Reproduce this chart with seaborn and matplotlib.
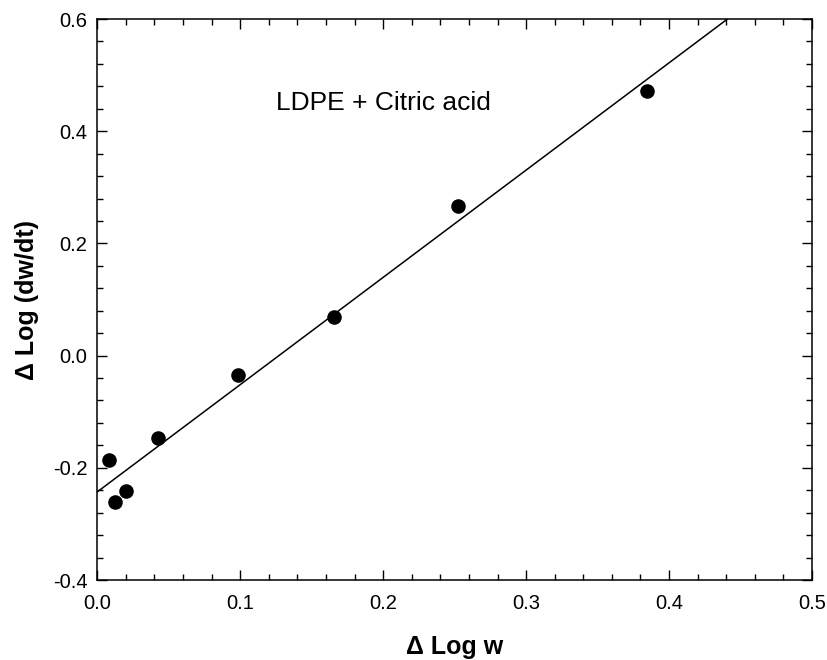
import matplotlib
matplotlib.use("Agg")
import matplotlib.pyplot as plt
from matplotlib.ticker import MultipleLocator
import numpy as np
import pandas as pd
import seaborn as sns

# Δ Log w vs Δ Log (dw/dt) for LDPE + citric acid
delta_log_w = [0.008, 0.0125, 0.020, 0.0425, 0.0985, 0.1656, 0.2523, 0.3845]
delta_log_rate = [-0.186, -0.261, -0.241, -0.147, -0.035, 0.069, 0.267, 0.472]
x_ticks = [0.0, 0.1, 0.2, 0.3, 0.4, 0.5]
y_ticks = [-0.4, -0.2, 0.0, 0.2, 0.4, 0.6]

df = pd.DataFrame({"dlogw": delta_log_w, "dlogr": delta_log_rate})

sns.set_theme(style="ticks")
plt.rcParams["font.family"] = ["Liberation Sans", "DejaVu Sans"]
plt.rcParams.update({"text.color": "black", "axes.labelcolor": "black",
                     "xtick.color": "black", "ytick.color": "black"})

fig = plt.figure(figsize=(8.28, 6.6), dpi=100)
ax = fig.add_axes([0.1175, 0.1212, 0.8632, 0.85])
ax.set_xlim(0.0, 0.5)
ax.set_ylim(-0.4, 0.6)

# least-squares line across the full x range
sns.regplot(data=df, x="dlogw", y="dlogr", ax=ax, ci=None, truncate=False,
            scatter=False, line_kws={"color": "black", "lw": 1.1})
sns.scatterplot(data=df, x="dlogw", y="dlogr", ax=ax, color="black",
                s=110, edgecolor="black", linewidth=0, zorder=3)

ax.set_xlim(0.0, 0.5)
ax.set_ylim(-0.4, 0.6)
ax.set_xticks(x_ticks)
ax.set_yticks(y_ticks)
ax.set_xticklabels([f"{v:.1f}" for v in x_ticks])
ax.set_yticklabels([f"{v:.1f}" for v in y_ticks])
ax.xaxis.set_minor_locator(MultipleLocator(0.02))
ax.yaxis.set_minor_locator(MultipleLocator(0.04))
ax.tick_params(which="both", direction="in", top=True, right=True,
               color="black", labelcolor="black", width=1.0)
ax.tick_params(which="major", length=7, labelsize=14.5)
ax.tick_params(axis="x", which="major", pad=10)
ax.tick_params(axis="y", which="major", pad=7)
ax.tick_params(which="minor", length=4)
for side in ax.spines.values():
    side.set_color("black")
    side.set_linewidth(1.1)

ax.set_xlabel("Δ Log w", fontsize=18, fontweight="bold", labelpad=16, color="black")
ax.set_ylabel("Δ Log (dw/dt)", fontsize=18, fontweight="bold", labelpad=10, color="black")
ax.text(0.2, 0.45, "LDPE + Citric acid", fontsize=19, ha="center", va="center",
        color="black")

fig.savefig("out.png", dpi=100)
